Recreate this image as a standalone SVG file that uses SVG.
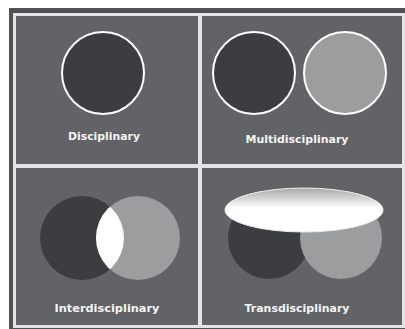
<svg xmlns="http://www.w3.org/2000/svg" width="405" height="329" viewBox="0 0 405 329">
  <defs>
    <style>
      .panel { fill: #616366; }
      .dark { fill: #3b3d40; }
      .light { fill: #9b9d9f; }
      .ring { stroke: #ffffff; stroke-width: 2; }
      .label { font-family: "DejaVu Sans", "Liberation Sans", sans-serif; font-weight: bold; font-size: 11px; fill: #f4f4f4; text-anchor: middle; }
    </style>
    <linearGradient id="cap" x1="0" y1="0" x2="0" y2="1">
      <stop offset="0" stop-color="#a8a8a8"/>
      <stop offset="0.25" stop-color="#d8d8d8"/>
      <stop offset="0.45" stop-color="#ffffff"/>
      <stop offset="1" stop-color="#ffffff"/>
    </linearGradient>
    <clipPath id="lensClip">
      <circle cx="82" cy="238" r="42"/>
    </clipPath>
  </defs>
  <rect x="0" y="0" width="405" height="329" fill="#ffffff"/>
  <rect x="9" y="8" width="396" height="321" fill="#505255"/>
  <rect x="13" y="13" width="392" height="315" fill="#e4e4e4"/>
  <g id="disciplinary">
    <rect class="panel" x="16" y="16" width="182" height="148"/>
    <circle class="dark ring" cx="103" cy="73" r="41"/>
    <text class="label" x="104" y="140" textLength="72" lengthAdjust="spacingAndGlyphs">Disciplinary</text>
  </g>
  <g id="multidisciplinary">
    <rect class="panel" x="202" y="16" width="200" height="148"/>
    <circle class="dark ring" cx="254" cy="73" r="41"/>
    <circle class="light ring" cx="345" cy="73" r="41"/>
    <text class="label" x="297" y="143" textLength="103" lengthAdjust="spacingAndGlyphs">Multidisciplinary</text>
  </g>
  <g id="interdisciplinary">
    <rect class="panel" x="16" y="168" width="182" height="157"/>
    <circle class="dark" cx="82" cy="238" r="42"/>
    <circle class="light" cx="138" cy="238" r="42"/>
    <circle cx="138" cy="238" r="42" fill="#ffffff" clip-path="url(#lensClip)"/>
    <text class="label" x="107" y="312" textLength="105" lengthAdjust="spacingAndGlyphs">Interdisciplinary</text>
  </g>
  <g id="transdisciplinary">
    <rect class="panel" x="202" y="168" width="200" height="157"/>
    <circle class="dark" cx="269" cy="238" r="41"/>
    <circle class="light" cx="341" cy="238" r="41"/>
    <ellipse cx="304" cy="210" rx="79" ry="22" fill="url(#cap)" stroke="#f0f0f0" stroke-width="1"/>
    <text class="label" x="297" y="312" textLength="105" lengthAdjust="spacingAndGlyphs">Transdisciplinary</text>
  </g>
</svg>
